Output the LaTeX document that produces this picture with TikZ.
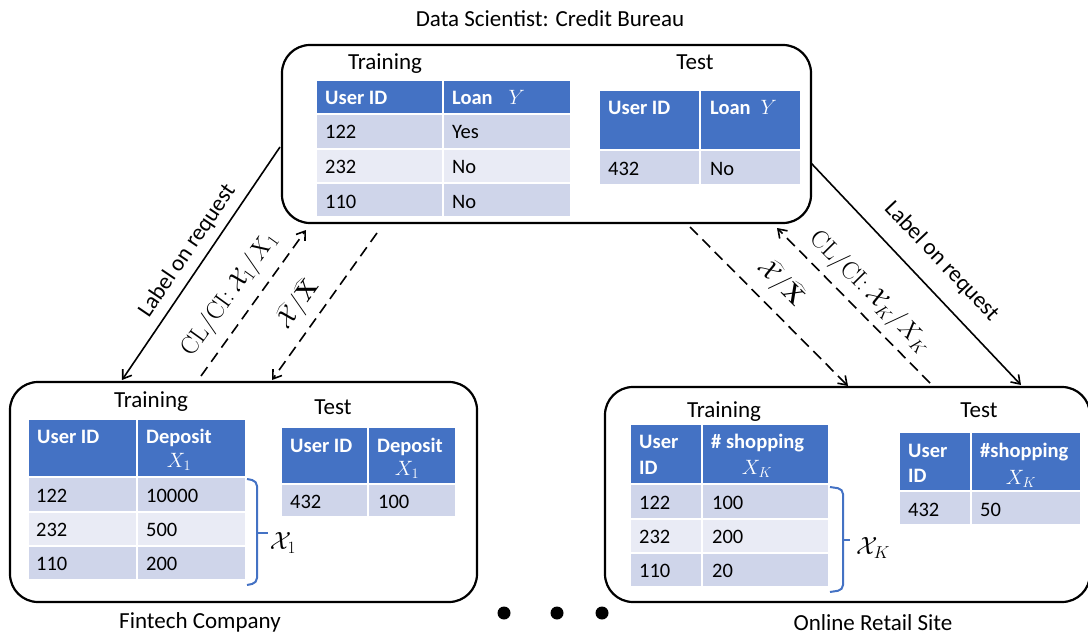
\documentclass[tikz,border=0pt]{standalone}
\usepackage[no-math]{fontspec}
\setmainfont{Carlito}
\usetikzlibrary{arrows.meta}
\definecolor{hdr}{HTML}{4472C4}
\definecolor{rowd}{HTML}{CFD5EA}
\definecolor{rowl}{HTML}{E9EBF5}
\begin{document}
\begin{tikzpicture}[x=1pt,y=-1pt,
  panel/.style={draw=black, line width=2.2pt, rounded corners=28pt, inner sep=0pt},
  lbl/.style={font=\fontsize{23}{27}\selectfont, inner sep=0pt},
  cellfill/.style={draw=white, line width=2pt},
  hcell/.style={cellfill, fill=hdr},
  dcell/.style={cellfill, fill=rowd},
  lcell/.style={cellfill, fill=rowl},
  htext/.style={anchor=base west, inner sep=0pt, text=white, font=\fontsize{20.5}{25}\selectfont\bfseries},
  btext/.style={anchor=base west, inner sep=0pt, font=\fontsize{20.5}{25}\selectfont},
  mtext/.style={anchor=base, inner sep=0pt, text=white, font=\fontsize{21}{25}\selectfont},
  conn/.style={line width=1.6pt, -{Straight Barb[length=8pt,width=11pt]}},
  dconn/.style={conn, dash pattern=on 11pt off 6.5pt},
  bracket/.style={draw=hdr, line width=2pt, rounded corners=5pt},
  clabel/.style={font=\fontsize{23}{27}\selectfont, sloped, above},
  dot/.style={circle, fill=black, inner sep=0pt, minimum width=12pt, minimum height=13pt}
]
\useasboundingbox (0,0) rectangle (1088,634);

% panels
\node[panel, minimum width=529pt, minimum height=178pt] (ds) at (546.5,134) {};
\node[panel, minimum width=467pt, minimum height=220pt] (fin) at (243.5,492) {};
\node[panel, minimum width=485pt, minimum height=215pt] (ret) at (847.5,494.5) {};

% titles
\node[lbl, anchor=base] (dstitle) at (550,27) {Data Scientist: Credit Bureau};
\node[lbl, anchor=base] (dstrain) at (385,70) {Training};
\node[lbl, anchor=base] (dstest) at (695,70) {Test};
\node[lbl, anchor=base] (fintrain) at (151,407) {Training};
\node[lbl, anchor=base] (fintest) at (333,414) {Test};
\node[lbl, anchor=base] (fintitle) at (200,628) {Fintech Company};
\node[lbl, anchor=base] (rettrain) at (724,417) {Training};
\node[lbl, anchor=base] (rettest) at (979,417) {Test};
\node[lbl, anchor=base] (rettitle) at (873,630) {Online Retail Site};

% top training table
\path[hcell] (316,80) rectangle (443,114);
\path[hcell] (443,80) rectangle (571,114);
\path[dcell] (316,114) rectangle (443,149);
\path[dcell] (443,114) rectangle (571,149);
\path[lcell] (316,149) rectangle (443,183);
\path[lcell] (443,149) rectangle (571,183);
\path[dcell] (316,183) rectangle (443,217);
\path[dcell] (443,183) rectangle (571,217);
\node[htext] (a1) at (325,104) {User ID};
\node[htext] (a2) at (452,104) {Loan\hspace{16pt}\fontsize{22}{25}\selectfont$Y$};
\node[btext] (a3) at (325,139) {122};
\node[btext] (a4) at (452,139) {Yes};
\node[btext] (a5) at (325,173) {232};
\node[btext] (a6) at (452,173) {No};
\node[btext] (a7) at (325,208) {110};
\node[btext] (a8) at (452,208) {No};

% top test table
\path[hcell] (599,90) rectangle (700,150);
\path[hcell] (700,90) rectangle (801,150);
\path[dcell] (599,150) rectangle (700,185);
\path[dcell] (700,150) rectangle (801,185);
\node[htext] (b1) at (608,114) {User ID};
\node[htext] (b2) at (710,114) {Loan\hspace{10pt}\fontsize{22}{25}\selectfont$Y$};
\node[btext] (b3) at (608,175) {432};
\node[btext] (b4) at (710,175) {No};

% fintech training table
\path[hcell] (28,419) rectangle (137,477);
\path[hcell] (137,419) rectangle (246,477);
\path[dcell] (28,477) rectangle (137,512);
\path[dcell] (137,477) rectangle (246,512);
\path[lcell] (28,512) rectangle (137,546);
\path[lcell] (137,512) rectangle (246,546);
\path[dcell] (28,546) rectangle (137,580);
\path[dcell] (137,546) rectangle (246,580);
\node[htext] (c1) at (37,443) {User ID};
\node[htext] (c2) at (146,443) {Deposit};
\node[mtext] (c3) at (179,467) {$X_1$};
\node[btext] (c4) at (36,502) {122};
\node[btext] (c5) at (146,502) {10000};
\node[btext] (c6) at (36,536) {232};
\node[btext] (c7) at (146,536) {500};
\node[btext] (c8) at (36,570) {110};
\node[btext] (c9) at (146,570) {200};

% fintech test table
\path[hcell] (281,427) rectangle (368,484);
\path[hcell] (368,427) rectangle (456,484);
\path[dcell] (281,484) rectangle (368,517);
\path[dcell] (368,484) rectangle (456,517);
\node[htext] (e1) at (290,452) {User ID};
\node[htext] (e2) at (377,452) {Deposit};
\node[mtext] (e3) at (407,475) {$X_1$};
\node[btext] (e4) at (290,508) {432};
\node[btext] (e5) at (378,508) {100};

% fintech bracket
\draw[bracket] (247,479) -- (257,481) -- (257,583) -- (247,585);
\draw[bracket] (257,533) -- (268,533);
\node[lbl] (xs1) at (283,543) {$\mathcal{X}_1$};

% retail training table
\path[hcell] (630,424) rectangle (702,484);
\path[hcell] (702,424) rectangle (829,484);
\path[dcell] (630,484) rectangle (702,519);
\path[dcell] (702,484) rectangle (829,519);
\path[lcell] (630,519) rectangle (702,553);
\path[lcell] (702,519) rectangle (829,553);
\path[dcell] (630,553) rectangle (702,587);
\path[dcell] (702,553) rectangle (829,587);
\node[htext] (f1) at (639,448) {User};
\node[htext] (f2) at (639,474) {ID};
\node[htext] (f3) at (711,448) {\# shopping};
\node[mtext] (f4) at (757,474) {$X_K$};
\node[btext] (f5) at (639,509) {122};
\node[btext] (f6) at (712,509) {100};
\node[btext] (f7) at (639,543) {232};
\node[btext] (f8) at (712,543) {200};
\node[btext] (f9) at (639,577) {110};
\node[btext] (f10) at (712,577) {20};

% retail test table
\path[hcell] (899,432) rectangle (971,491);
\path[hcell] (971,432) rectangle (1081,491);
\path[dcell] (899,491) rectangle (971,525);
\path[dcell] (971,491) rectangle (1081,525);
\node[htext] (g1) at (908,457) {User};
\node[htext] (g2) at (908,482) {ID};
\node[htext] (g3) at (980,457) {\#shopping};
\node[mtext] (g4) at (1021,484) {$X_K$};
\node[btext] (g5) at (908,516) {432};
\node[btext] (g6) at (980,516) {50};

% retail bracket
\draw[bracket] (830,487) -- (843,489) -- (843,590) -- (830,592);
\draw[bracket] (843,540) -- (850,540);
\node[lbl] (xsk) at (873,548) {$\mathcal{X}_K$};

% dots
\node[dot] (d1) at (504,613) {};
\node[dot] (d2) at (557,613) {};
\node[dot] (d3) at (602,613) {};

% connector end points
\coordinate (p1s) at (280,147);
\coordinate (p1e) at (122,380);
\coordinate (p2s) at (201,376);
\coordinate (p2e) at (306,230);
\coordinate (p3s) at (377,233);
\coordinate (p3e) at (272,380);
\coordinate (p4s) at (690,227);
\coordinate (p4e) at (848,386);
\coordinate (p5s) at (930,383);
\coordinate (p5e) at (777,228);
\coordinate (p6s) at (811,163);
\coordinate (p6e) at (1021,385);

\draw[conn] (p1s) -- node[clabel, pos=0.49, inner sep=7.8pt] (l1) {Label on request} (p1e);
\draw[dconn] (p2s) -- node[clabel, pos=0.46, inner sep=11pt] (l2) {$\mathrm{CL/CI}{:}\ \mathcal{X}_1/X_1$} (p2e);
\draw[dconn] (p3s) -- node[clabel, pos=0.575, inner sep=9pt] (l3) {$\widehat{\mathcal{X}}/\widehat{\mathbf{X}}$} (p3e);
\draw[dconn] (p4s) -- node[clabel, pos=0.463, inner sep=10.6pt] (l4) {$\widehat{\mathcal{X}}/\widehat{\mathbf{X}}$} (p4e);
\draw[dconn] (p5s) -- node[clabel, pos=0.49, inner sep=7.3pt] (l5) {$\mathrm{CL/CI}{:}\ \mathcal{X}_K/X_K$} (p5e);
\draw[conn] (p6s) -- node[clabel, pos=0.527, inner sep=16.7pt] (l6) {Label on request} (p6e);
\end{tikzpicture}
\end{document}
